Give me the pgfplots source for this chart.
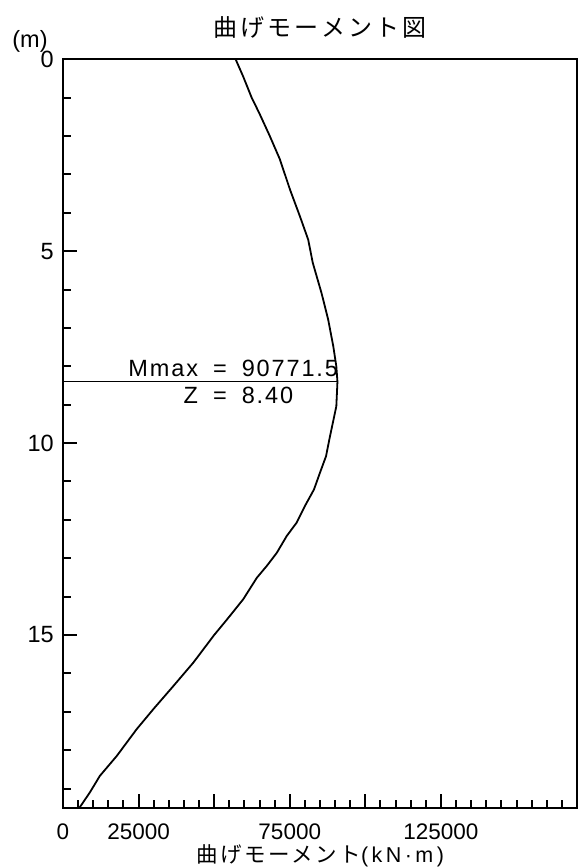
\documentclass[border=0pt]{standalone}
\usepackage{fontspec}
\setmainfont{Liberation Sans}
\newfontfamily\jpt[LetterSpace=13]{Noto Sans CJK JP}
\newfontfamily\jpl[LetterSpace=12]{Noto Sans CJK JP}
\newfontfamily\lsl[LetterSpace=16]{Liberation Sans}
\newfontfamily\lsp[LetterSpace=8]{Liberation Sans}
\usepackage{pgfplots}
\pgfplotsset{compat=1.18}
\usepackage{pgfplotstable}

\pgfplotstableread{
z M
0.00 57100
0.45 59600
1.00 62400
1.40 64900
2.00 68400
2.60 71700
3.40 75100
4.10 78400
4.70 81100
5.30 82600
6.09 85500
6.78 87700
7.48 89400
8.00 90400
8.40 90771.5
9.04 90400
9.90 88100
10.34 87000
10.77 85000
11.21 83000
11.64 80000
12.07 77300
12.42 74000
12.86 70700
13.20 67400
13.51 64100
14.07 59600
14.59 54300
15.00 50000
15.72 43100
16.33 36500
16.93 29900
17.45 24400
18.15 17800
18.67 12200
19.10 8900
19.46 5800
19.50 5400
}\moment

\begin{document}
\begin{tikzpicture}
\useasboundingbox (-63bp,-60.3bp) rectangle (517bp,807.7bp);
\begin{axis}[
  at={(0,0)}, anchor=south west,
  scale only axis, width=514bp, height=748.4bp,
  xmin=0, xmax=170000, ymin=0, ymax=19.5, y dir=reverse,
  axis line style={line width=2bp, black},
  tick style={line width=2bp, black},
  tick align=inside,
  xtick pos=lower, ytick pos=left,
  major tick length=14bp, minor tick length=8bp,
  xtick={0,25000,50000,75000,100000,125000},
  xticklabels={0,25000,,75000,,125000},
  minor xtick={5000,10000,15000,20000,30000,35000,40000,45000,55000,60000,65000,70000,80000,85000,90000,95000,105000,110000,115000,120000,130000,135000,140000,145000,150000,155000,160000,165000},
  ytick={0,5,10,15},
  yticklabels={0,5,10,15},
  minor ytick={1,2,3,4,6,7,8,9,11,12,13,14,16,17,18,19},
  scaled x ticks=false,
  /pgf/number format/assume math mode=true,
  xticklabel style={font=\fontsize{22.5bp}{26bp}\selectfont, inner sep=0pt, anchor=north, yshift=-15.5bp},
  yticklabel style={font=\fontsize{23.5bp}{27bp}\selectfont, inner sep=0pt, anchor=east, xshift=-9bp},
  title={\jpt 曲げモーメント図},
  every axis title/.style={at={(0.5,1)}, anchor=center, yshift=32bp, font=\fontsize{24bp}{28bp}\selectfont},
  xlabel={{\jpl 曲げモーメント}{\lsl(kN·m)}},
  every axis x label/.style={at={(0.5,0)}, anchor=center, yshift=-48.5bp, font=\fontsize{21.5bp}{25bp}\selectfont},
  ylabel={(m)},
  every axis y label/.style={at={(0,1)}, anchor=center, xshift=-33bp, yshift=18bp, font=\fontsize{23.5bp}{27bp}\selectfont},
]
\addplot[black, line width=1.8bp] table[x=M, y=z] {\moment};
\addplot[black, line width=1.6bp] coordinates {(0,8.40) (90771.5,8.40)};
\node[anchor=base, inner sep=0pt, font=\fontsize{23.5bp}{27bp}\selectfont\lsp] at (axis cs:51900,8.275) {\llap{Mmax\hspace{15bp}}=\rlap{\hspace{15bp}90771.5}};
\node[anchor=base, inner sep=0pt, font=\fontsize{23.5bp}{27bp}\selectfont\lsp] at (axis cs:51900,8.97) {\llap{Z\hspace{15bp}}=\rlap{\hspace{15bp}8.40}};
\end{axis}
\end{tikzpicture}
\end{document}
